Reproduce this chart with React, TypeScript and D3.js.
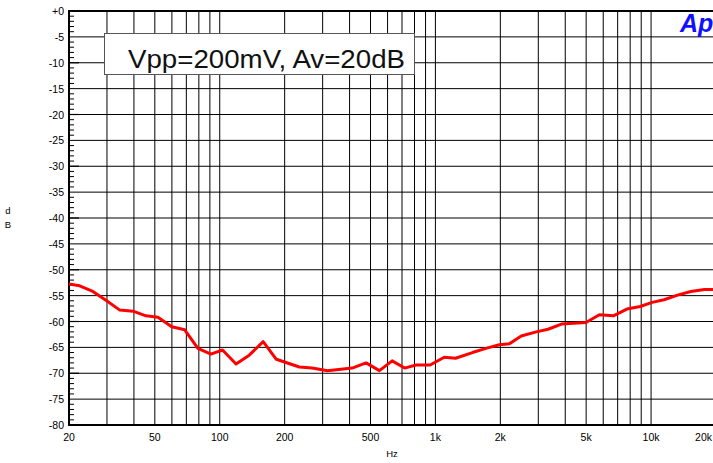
import React from "react";
import * as d3 from "d3";

const freqs = [20, 22.4, 25.8, 29.9, 34.4, 39.6, 45.5, 51.7, 59.9, 68.8, 79.2, 91, 103, 119, 137, 159, 183, 234, 268, 316, 411, 477, 550, 630, 720, 813, 945, 1099, 1240, 1485, 1715, 1980, 2205, 2500, 2935, 3330, 3840, 4990, 5760, 6690, 7720, 8910, 10120, 11480, 13260, 15280, 17700, 20000];
const levels = [-52.75, -53.1, -54.2, -56.0, -57.8, -58.0, -58.9, -59.2, -61.0, -61.6, -65.2, -66.3, -65.5, -68.2, -66.5, -63.9, -67.3, -68.8, -69.0, -69.5, -69.0, -68.0, -69.5, -67.6, -69.0, -68.4, -68.4, -66.9, -67.1, -66.0, -65.2, -64.5, -64.3, -62.8, -62.0, -61.5, -60.5, -60.2, -58.7, -58.9, -57.6, -57.1, -56.3, -55.8, -54.9, -54.2, -53.8, -53.8];

const xTickValues = [20, 50, 100, 200, 500, 1000, 2000, 5000, 10000, 20000];
const xTickLabels = ["20", "50", "100", "200", "500", "1k", "2k", "5k", "10k", "20k"];
const yTickValues = [0, -5, -10, -15, -20, -25, -30, -35, -40, -45, -50, -55, -60, -65, -70, -75, -80];
const yTickLabels = ["+0", "-5", "-10", "-15", "-20", "-25", "-30", "-35", "-40", "-45", "-50", "-55", "-60", "-65", "-70", "-75", "-80"];
const legendText = "Vpp=200mV, Av=20dB";

const W = 713, H = 463;
const L = 69, R = 716, T = 11, B = 425;

export default function App() {
  const x = d3.scaleLog().domain([20, 20000]).range([L, R]);
  const y = d3.scaleLinear().domain([0, -80]).range([T, B]);

  const gridX: number[] = [];
  for (let dec = 10; dec <= 10000; dec *= 10) {
    for (let m = 1; m <= 9; m++) {
      const f = dec * m;
      if (f > 20 && f < 20000) gridX.push(f);
    }
  }
  const minorY: number[] = [];
  for (let v = 0; v >= -80; v--) if (v % 5 !== 0) minorY.push(v);

  const line = d3.line<number>().x((_, i) => x(freqs[i])).y((d) => y(d));
  const font = "'Liberation Sans', Arial, sans-serif";

  return (
    <svg width={W} height={H} style={{ position: "fixed", left: 0, top: 0, background: "#fff" }} fontFamily={font}>
      <rect x={0} y={0} width={W} height={H} fill="#fff" />
      {gridX.map((f) => (
        <line key={"gx" + f} x1={x(f)} x2={x(f)} y1={T} y2={B} stroke="#000" strokeWidth={1} />
      ))}
      {yTickValues.slice(1, -1).map((v) => (
        <line key={"gy" + v} x1={L} x2={R} y1={y(v)} y2={y(v)} stroke="#000" strokeWidth={1} />
      ))}
      {minorY.map((v) => (
        <line key={"my" + v} x1={L} x2={L + 5} y1={y(v)} y2={y(v)} stroke="#000" strokeWidth={1} />
      ))}
      {yTickValues.filter((v) => v % 10 === 0).map((v) => (
        <line key={"mj" + v} x1={L} x2={L + 10} y1={y(v)} y2={y(v)} stroke="#000" strokeWidth={1.2} />
      ))}
      <line x1={L} x2={R} y1={T} y2={T} stroke="#000" strokeWidth={2} />
      <line x1={L} x2={R} y1={B} y2={B} stroke="#000" strokeWidth={2} />
      <line x1={L} x2={L} y1={T - 1} y2={B + 1} stroke="#000" strokeWidth={2} />

      <rect x={104.5} y={33.5} width={310} height={41} fill="#fff" stroke="#555" strokeWidth={1} />
      <text x={128} y={68} fontSize={26} textLength={277} lengthAdjust="spacingAndGlyphs" fill="#111">{legendText}</text>

      <path d={line(levels) || ""} fill="none" stroke="#ff0000" strokeWidth={3} strokeLinejoin="round" />

      {yTickValues.map((v, i) => (
        <text key={"yl" + v} x={64} y={y(v) + 4} fontSize={10.5} textAnchor="end" fill="#000">{yTickLabels[i]}</text>
      ))}
      {xTickValues.map((f, i) => {
        const last = i === xTickValues.length - 1;
        return (
          <text key={"xl" + f} x={last ? 712 : x(f)} y={441} fontSize={10.5} textAnchor={last ? "end" : "middle"} fill="#000">{xTickLabels[i]}</text>
        );
      })}
      <text x={392} y={457} fontSize={9.5} textAnchor="middle" fill="#000">Hz</text>
      <text x={8} y={214} fontSize={9.5} textAnchor="middle" fill="#000">d</text>
      <text x={8} y={228} fontSize={9.5} textAnchor="middle" fill="#000">B</text>

      <text x={680} y={32} fontSize={25} fontWeight="bold" fontStyle="italic" fill="#1010ff">Ap</text>
    </svg>
  );
}
